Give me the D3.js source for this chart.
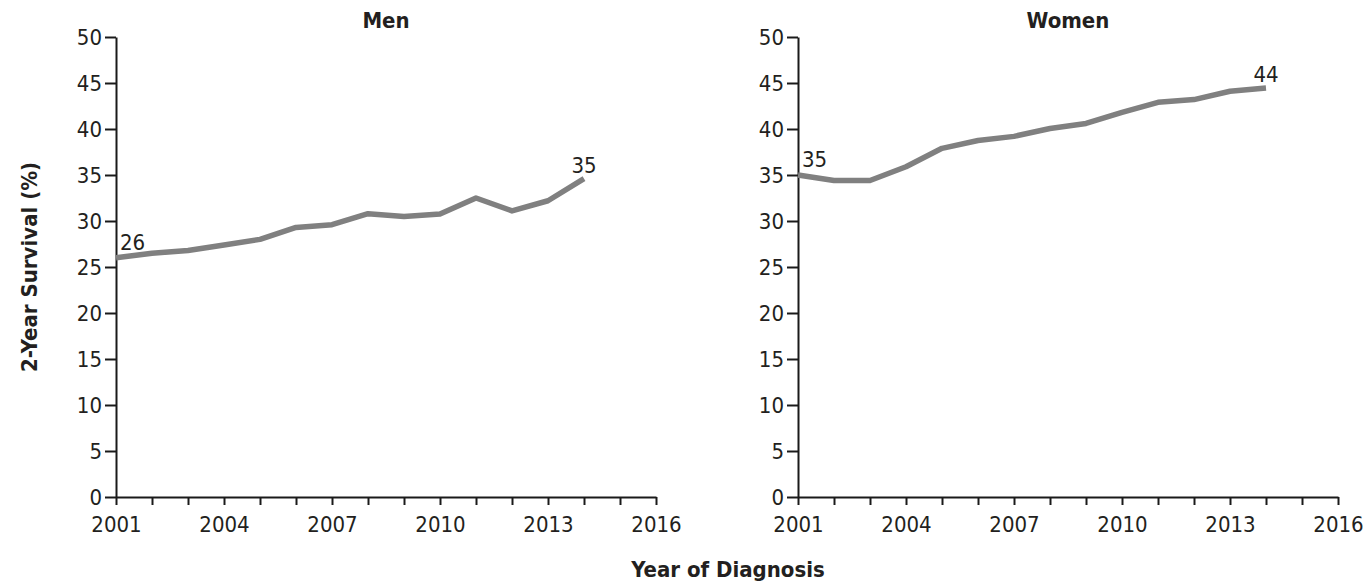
<!DOCTYPE html>
<html><head><meta charset="utf-8">
<script src="https://cdn.jsdelivr.net/npm/d3@7"></script>
<style>body{margin:0;background:#fff}svg{display:block}</style>
</head><body>
<script>
const years = [2001,2002,2003,2004,2005,2006,2007,2008,2009,2010,2011,2012,2013,2014];
const menValues = [26.0,26.5,26.8,27.4,28.0,29.3,29.6,30.8,30.5,30.75,32.5,31.1,32.2,34.6];
const womenValues = [35.0,34.4,34.4,35.9,37.9,38.75,39.2,40.05,40.6,41.8,42.9,43.2,44.1,44.45];
const panelTitles = ["Men","Women"];
const endLabels = [["26","35"],["35","44"]];
const yTicks = [0,5,10,15,20,25,30,35,40,45,50];
const xTickLabels = [2001,2004,2007,2010,2013,2016];
const xMinor = d3.range(2001,2017);

const W=1371,H=586;
const font = "'Liberation Sans Narrow','DejaVu Sans Condensed',sans-serif";
const svg = d3.select("body").append("svg").attr("width",W).attr("height",H);

const panels = [{left:116, values:menValues},{left:798, values:womenValues}];
const plotTop=37, plotBottom=497, pw=540;
const y = d3.scaleLinear().domain([0,50]).range([plotBottom,plotTop]);

panels.forEach((p,i)=>{
  const x = d3.scaleLinear().domain([2001,2016]).range([p.left,p.left+pw]);
  const g = svg.append("g");
  const ya = g.append("g").attr("transform",`translate(${p.left},0)`)
    .call(d3.axisLeft(y).tickValues(yTicks).tickSize(11).tickPadding(3).tickSizeOuter(0));
  const xa = g.append("g").attr("transform",`translate(0,${plotBottom})`)
    .call(d3.axisBottom(x).tickValues(xMinor).tickSize(8).tickPadding(11).tickSizeOuter(0)
      .tickFormat(d=> xTickLabels.includes(d)? String(d):""));
  [ya,xa].forEach(a=>{
    a.select(".domain").attr("stroke","#1a1a1a").attr("stroke-width",2);
    a.selectAll(".tick line").attr("stroke","#1a1a1a").attr("stroke-width",2);
    a.selectAll("text").attr("font-family",font).attr("font-size",22).attr("fill","#231f20");
  });
  const line = d3.line().x((d,j)=>x(years[j])).y(d=>y(d));
  g.append("path").datum(p.values).attr("d",line)
    .attr("fill","none").attr("stroke","#808080").attr("stroke-width",5.5)
    .attr("stroke-linejoin","round");
  g.append("text").attr("x",x(years[0])+4).attr("y",y(p.values[0])-8)
    .attr("font-family",font).attr("font-size",22).attr("fill","#231f20").text(endLabels[i][0]);
  const last = p.values.length-1;
  g.append("text").attr("x",x(years[last])).attr("y",y(p.values[last])-6)
    .attr("text-anchor","middle")
    .attr("font-family",font).attr("font-size",22).attr("fill","#231f20").text(endLabels[i][1]);
  g.append("text").attr("x",p.left+pw/2).attr("y",28).attr("text-anchor","middle")
    .attr("font-family",font).attr("font-weight","bold").attr("font-size",22).attr("fill","#231f20")
    .text(panelTitles[i]);
});

svg.append("text").attr("transform",`translate(37,267) rotate(-90)`).attr("text-anchor","middle")
  .attr("font-family",font).attr("font-weight","bold").attr("font-size",22).attr("fill","#231f20")
  .text("2-Year Survival (%)");
svg.append("text").attr("x",728).attr("y",577).attr("text-anchor","middle")
  .attr("font-family",font).attr("font-weight","bold").attr("font-size",22).attr("fill","#231f20")
  .text("Year of Diagnosis");
</script>
</body></html>
